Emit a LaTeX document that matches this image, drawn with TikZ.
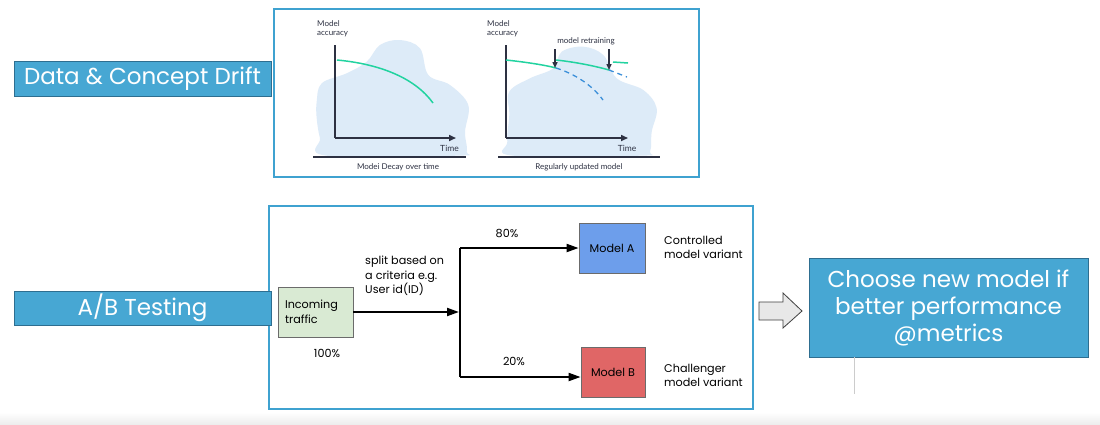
\documentclass[tikz,border=0pt]{standalone}
\usepackage{fontspec}
\setmainfont{Poppins}
\newfontfamily\chartfont{Lato}
\usetikzlibrary{arrows.meta}
\definecolor{boxblue}{HTML}{47A7D3}
\definecolor{boxedge}{HTML}{2E6E90}
\definecolor{panelblue}{HTML}{3FA2D0}
\definecolor{blob}{HTML}{DDEBF8}
\definecolor{axis}{HTML}{2D3142}
\definecolor{curve}{HTML}{22D3A0}
\definecolor{dashblue}{HTML}{3B8FD9}
\definecolor{incfill}{HTML}{D9EAD3}
\definecolor{afill}{HTML}{6D9EEB}
\definecolor{bfill}{HTML}{E06666}
\definecolor{grayedge}{HTML}{6B6B6B}
\tikzset{
  bluebox/.style={draw=boxedge, line width=0.8pt, fill=boxblue, text=white, inner sep=0pt,
    font=\fontsize{23}{27}\selectfont, align=center},
  panel/.style={draw=panelblue, line width=2.6pt, inner sep=0pt},
  chartlbl/.style={font=\chartfont\fontsize{8}{8.5}\selectfont, text=axis, inner sep=0pt},
  chartlbl2/.style={font=\chartfont\fontsize{8}{8.5}\selectfont, text=axis, inner sep=0pt, align=left},
  axisline/.style={draw=axis, line width=1.6pt, -{Triangle[length=7pt,width=6pt]}},
  baseline/.style={draw=axis, line width=1.4pt},
  goodcurve/.style={draw=curve, line width=1.5pt},
  decay/.style={draw=dashblue, line width=1.3pt, dash pattern=on 5pt off 4pt},
  retrain/.style={draw=axis, line width=1.4pt, -{Triangle[length=6pt,width=5pt]}},
  mbox/.style={draw=grayedge, line width=0.8pt, inner sep=0pt, font=\fontsize{11.2}{14.5}\selectfont},
  ptext/.style={inner sep=0pt, font=\fontsize{11.2}{14.5}\selectfont, align=left, anchor=north west},
  pct/.style={inner sep=0pt, font=\fontsize{11.2}{14.5}\selectfont},
  conn/.style={line width=2pt, -{Triangle[length=12pt,width=8pt]}},
}
\begin{document}
\begin{tikzpicture}[x=1pt,y=-1pt]
\useasboundingbox (0,0) rectangle (1100,424);
\fill[white] (0,0) rectangle (1100,424);
\shade[top color=white, bottom color=black!7] (0,412) rectangle (1100,424);

% ---------- top panel ----------
\node[panel, minimum width=425pt, minimum height=168pt] (toppanel) at (486.5,93) {};

% blobs
\fill[blob] plot[smooth cycle, tension=0.6] coordinates {
 (316.7,101.7) (321.7,83.3) (346.7,73.3) (366.7,61.7) (380,45) (400,40) (420,48.3)
 (428.3,75) (450,85) (468.3,105) (465,131.7) (466.7,151.7) (456.7,155.7)
 (326.7,155.7) (320,138.3) (316.7,118.3)};
\fill[blob] plot[smooth cycle, tension=0.6] coordinates {
 (509.3,91.7) (530,78.3) (553.3,68.3) (561.7,51.7) (583.3,46.7) (603.3,55)
 (616.7,78.3) (643.3,90) (656.7,108.3) (651.7,131.7) (650,151.7) (640,155.7)
 (513.3,155.7) (507.3,141.7) (509.3,115)};

% left chart
\coordinate (lo) at (335,138);
\coordinate (ltop) at (335,45);
\coordinate (lend) at (456,138);
\draw[draw=axis, line width=1.6pt] (ltop) -- (lo);
\draw[axisline] (lo) -- (lend);
\node[chartlbl2, anchor=south west] (lacc) at (317,37) {Model\\accuracy};
\node[chartlbl, font=\chartfont\fontsize{8.5}{9}\selectfont] (ltime) at (449.5,148) {Time};
\coordinate (lb1) at (313,157);
\coordinate (lb2) at (466,157);
\draw[baseline] (lb1) -- (lb2);
\node[chartlbl] (lcap) at (398,167.5) {Modei Decay over time};
\coordinate (lc1) at (337,60);
\coordinate (lc2) at (433,103);
\draw[goodcurve] (lc1) .. controls (380,64) and (415,78) .. (lc2);

% right chart
\coordinate (ro) at (506,138);
\coordinate (rtop) at (506,45);
\coordinate (rend) at (628,138);
\draw[draw=axis, line width=1.6pt] (rtop) -- (ro);
\draw[axisline] (ro) -- (rend);
\node[chartlbl2, anchor=south west] (racc) at (487,37) {Model\\accuracy};
\node[chartlbl, font=\chartfont\fontsize{8.5}{9}\selectfont] (rtime) at (627,148) {Time};
\coordinate (rb1) at (498,157);
\coordinate (rb2) at (660,157);
\draw[baseline] (rb1) -- (rb2);
\node[chartlbl] (rcap) at (579,167.5) {Regularly updated model};
\coordinate (r1) at (506,60);
\coordinate (r2) at (556,68);
\coordinate (r3) at (603,100);
\coordinate (r4) at (556,60);
\coordinate (r5) at (609,70);
\coordinate (r6) at (627,77);
\coordinate (r7) at (613,62);
\coordinate (r8) at (628,63);
\draw[goodcurve] (r1) .. controls (525,62) and (545,65) .. (r2);
\draw[decay] (r2) .. controls (575,74) and (592,85) .. (r3);
\draw[goodcurve] (r4) .. controls (575,62) and (595,66) .. (r5);
\draw[decay] (r5) -- (r6);
\draw[goodcurve] (r7) -- (r8);
\node[chartlbl] (retr) at (586,41.5) {model retraining};
\coordinate (a1s) at (555,49);
\coordinate (a1e) at (555,68);
\coordinate (a2s) at (609,49);
\coordinate (a2e) at (609,70);
\draw[retrain] (a1s) -- (a1e);
\draw[retrain] (a2s) -- (a2e);

% ---------- bottom panel ----------
\node[panel, minimum width=484pt, minimum height=203pt] (botpanel) at (511,307.5) {};

\node[mbox, fill=incfill, minimum width=75pt, minimum height=50pt, text width=61pt, align=left] (inc) at (315.5,312) {Incoming\\traffic};
\node[pct] (p100) at (327,353) {100\%};
\node[mbox, fill=afill, minimum width=66pt, minimum height=50pt] (ma) at (612,248) {Model A};
\node[mbox, fill=bfill, minimum width=64pt, minimum height=50pt] (mb) at (613,372) {Model B};

\coordinate (split) at (460,312);
\coordinate (vt) at (460,248);
\coordinate (vb) at (460,377);
\draw[line width=2pt] (vt) -- (vb);
\draw[conn] (inc.east) -- ([xshift=-1pt]split);
\draw[conn] (vt) -- (ma.west);
\draw[conn] (vb) -- (vb -| mb.west);

\node[pct] (p80) at (507,233) {80\%};
\node[pct] (p20) at (514,361) {20\%};
\node[ptext] (splittxt) at (365,256) {split based on\\a criteria e.g.\\User id(ID)};
\node[ptext] (ctrl) at (664,236) {Controlled\\model variant};
\node[ptext] (chal) at (664,364) {Challenger\\model variant};

% ---------- left labels ----------
\node[bluebox, minimum width=257pt, minimum height=35pt] (dcd) at (142.5,78.5) {Data \& Concept Drift};
\node[bluebox, minimum width=257pt, minimum height=34pt] (ab) at (142.5,308) {A/B Testing};

% ---------- right ----------
\node[bluebox, minimum width=279pt, minimum height=99pt] (choose) at (948.5,307.5) {Choose new model if\\better performance\\@metrics};
\draw[draw=black!75, fill=black!9, line width=0.8pt]
  (759,302) -- (783,302) -- (783,293) -- (802,311) -- (783,328) -- (783,320) -- (759,320) -- cycle;
\coordinate (gl1) at (854,357);
\coordinate (gl2) at (854,394);
\draw[black!20, line width=0.8pt] (choose.south -| gl1) -- (gl2);
\end{tikzpicture}
\end{document}
